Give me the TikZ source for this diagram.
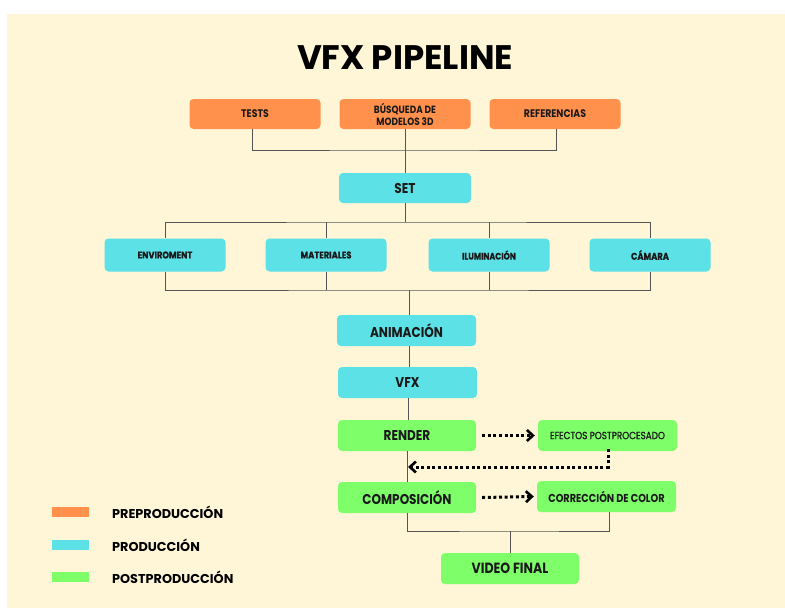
\documentclass[tikz,border=0pt]{standalone}
\usepackage{fontspec}
\setmainfont{Poppins}[FakeStretch=0.85]
\newfontfamily\widefont{Poppins}
\usetikzlibrary{arrows.meta}
\definecolor{bg}{HTML}{FFF5D7}
\definecolor{pre}{HTML}{FF914D}
\definecolor{prod}{HTML}{5CE1E6}
\definecolor{post}{HTML}{7EFF6A}
\definecolor{ln}{HTML}{555555}
\begin{document}
\begin{tikzpicture}[x=1pt,y=-1pt,
  box/.style={rounded corners=4pt,minimum width=131pt,minimum height=30pt,inner sep=0pt,align=center,font=\bfseries\fontsize{11}{11}\selectfont,text=black!90},
  prebox/.style={box,fill=pre},
  prodbox/.style={box,fill=prod},
  postbox/.style={box,fill=post},
  big/.style={font=\bfseries\fontsize{14.2}{14}\selectfont},
  conn/.style={draw=ln,line width=1pt},
  dotarrow/.style={line width=3pt,dash pattern=on 3pt off 2.6pt,-{Straight Barb[length=6pt,width=11pt,line width=2.6pt]}},
  swatch/.style={minimum width=37pt,minimum height=10pt,inner sep=0pt},
  legend/.style={anchor=west,font=\widefont\bfseries\fontsize{12.8}{12}\selectfont,inner sep=0pt}]
\useasboundingbox (0,0) rectangle (785,608);
\fill[bg] (7,14) rectangle (785,608);
\node[font=\widefont\bfseries\fontsize{34}{34}\selectfont] (title) at (405,58) {VFX PIPELINE};
% pre-production
\node[prebox] (tests) at (255,114) {TESTS};
\node[prebox,font=\bfseries\fontsize{10.5}{12}\selectfont] (busq) at (405,114) {BÚSQUEDA DE\\MODELOS 3D};
\node[prebox] (refs) at (555,114) {REFERENCIAS};
\node[prodbox,minimum width=132pt,big] (set) at (405,188) {SET};
\coordinate (j1) at (405,150);
\draw[conn] (tests.south -| 252,0) |- (j1) -| (refs.south -| 556,0);
\draw[conn] (busq.south) -- (set.north);
% production
\tikzset{rowbox/.style={prodbox,minimum width=121pt,minimum height=33pt,font=\bfseries\fontsize{9.8}{10}\selectfont\addfontfeature{FakeBold=0.6}}}
\node[rowbox] (env) at (165,255) {ENVIROMENT};
\node[rowbox] (mat) at (326,255) {MATERIALES};
\node[rowbox,font=\bfseries\fontsize{9.3}{10}\selectfont\addfontfeature{FakeBold=0.6}] (ilu) at (489,255) {ILUMINACIÓN};
\node[rowbox] (cam) at (650,255) {CÁMARA};
\coordinate (j2) at (405,222);
\draw[conn] (set.south) -- (j2);
\draw[conn] (env.north) |- (j2) -| (cam.north);
\draw[conn] (mat.north) -- (mat.north |- j2);
\draw[conn] (ilu.north) -- (ilu.north |- j2);
\node[prodbox,minimum width=139pt,minimum height=31pt,big] (anim) at (406.5,330.5) {ANIMACIÓN};
\node[prodbox,minimum width=139pt,minimum height=31pt,big] (vfx) at (407.5,382.5) {VFX};
\coordinate (j3) at (409,290);
\draw[conn] (env.south) |- (j3) -| (cam.south);
\draw[conn] (mat.south) -- (mat.south |- j3);
\draw[conn] (ilu.south) -- (ilu.south |- j3);
\draw[conn] (j3) -- (anim.north -| j3);
\draw[conn] (anim.south -| j3) -- (vfx.north -| j3);
% post-production
\node[postbox,minimum width=138pt,minimum height=31pt,big] (render) at (407,435.5) {RENDER};
\node[postbox,minimum width=139pt,minimum height=31pt,font=\fontsize{10.4}{11}\selectfont\addfontfeature{FakeBold=1}] (efx) at (607.5,435.5) {EFECTOS POSTPROCESADO};
\node[postbox,minimum width=138pt,minimum height=31pt,big] (comp) at (407,497.5) {COMPOSICIÓN};
\node[postbox,minimum width=139pt,minimum height=31pt,font=\bfseries\fontsize{11.5}{11}\selectfont] (corr) at (606.5,496.5) {CORRECCIÓN DE COLOR};
\node[postbox,minimum width=138pt,minimum height=31pt,font=\bfseries\fontsize{14.8}{14}\selectfont] (final) at (510,568.5) {VIDEO FINAL};
\draw[conn] (vfx.south -| 408,0) -- (render.north -| 408,0);
\draw[conn] (render.south -| 407,0) -- (comp.north -| 407,0);
\coordinate (d1) at (608,467);
\coordinate (d2) at (407,467);
\draw[dotarrow] ([xshift=6pt]render.east) -- ([xshift=-3pt]efx.west);
\draw[dotarrow] ([yshift=2pt]efx.south -| d1) -- (d1) -- ([xshift=1pt]d2);
\draw[dotarrow] ([xshift=6pt]comp.east) -- ([xshift=-3pt]corr.west);
\coordinate (j4) at (510,531);
\draw[conn] (comp.south) |- (j4) -| (corr.south -| 609,0);
\draw[conn] (j4) -- (final.north);
% legend
\node[swatch,fill=pre] (s1) at (70.5,512) {};
\node[swatch,fill=prod] (s2) at (70.5,545) {};
\node[swatch,fill=post] (s3) at (70.5,577) {};
\node[legend] (l1) at (112,512) {PREPRODUCCIÓN};
\node[legend] (l2) at (112,545) {PRODUCCIÓN};
\node[legend] (l3) at (112,577) {POSTPRODUCCIÓN};
\end{tikzpicture}
\end{document}
